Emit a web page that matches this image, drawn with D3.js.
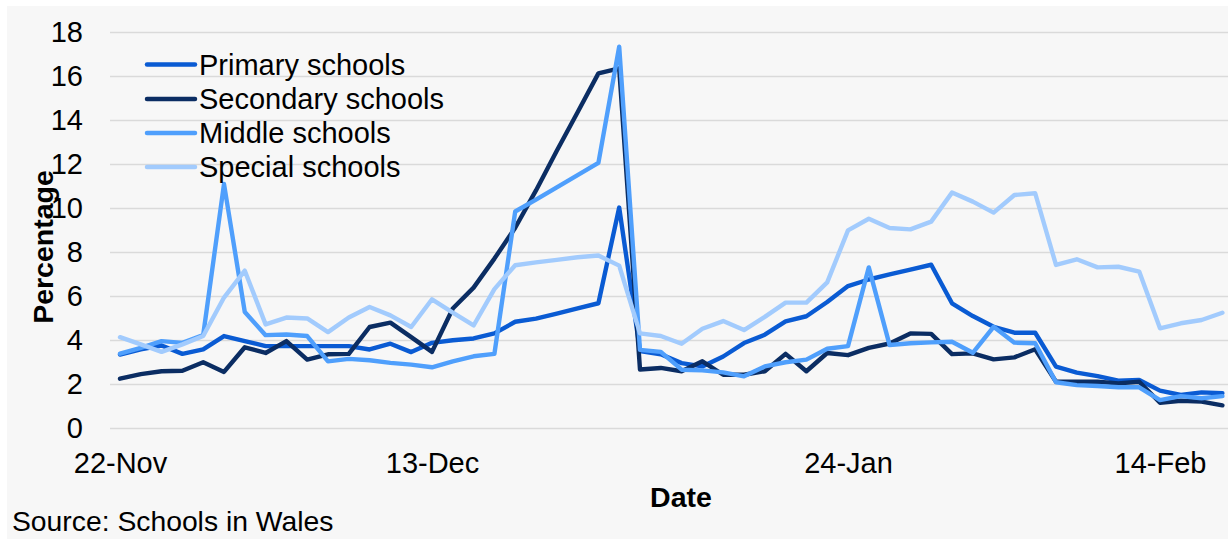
<!DOCTYPE html>
<html>
<head>
<meta charset="utf-8">
<script src="https://cdn.jsdelivr.net/npm/d3@7"></script>
<style>
  body { margin: 0; background: #fff; }
  text { font-family: Arial, "Liberation Sans", sans-serif; fill: #000; }
</style>
</head>
<body>
<div id="chart"></div>
<script>
// school days shown on the x axis
var days = [
    "22-Nov", "23-Nov", "24-Nov", "25-Nov", "26-Nov",
    "29-Nov", "30-Nov", "1-Dec", "2-Dec", "3-Dec",
    "6-Dec", "7-Dec", "8-Dec", "9-Dec", "10-Dec",
    "13-Dec", "14-Dec", "15-Dec", "16-Dec", "17-Dec",
    "20-Dec", "21-Dec", "22-Dec", "23-Dec", "24-Dec",
    "10-Jan", "11-Jan", "12-Jan", "13-Jan", "14-Jan",
    "17-Jan", "18-Jan", "19-Jan", "20-Jan", "21-Jan",
    "24-Jan", "25-Jan", "26-Jan", "27-Jan", "28-Jan",
    "31-Jan", "1-Feb", "2-Feb", "3-Feb", "4-Feb",
    "7-Feb", "8-Feb", "9-Feb", "10-Feb", "11-Feb",
    "14-Feb", "15-Feb", "16-Feb", "17-Feb"
];
var dayTicks = ["22-Nov", "13-Dec", "24-Jan", "14-Feb"];
var yTicks = [0, 2, 4, 6, 8, 10, 12, 14, 16, 18];

var primary = [
    3.34, 3.57, 3.75, 3.37, 3.57, 4.18, 3.95, 3.72, 3.72, 3.72,
    3.72, 3.72, 3.57, 3.83, 3.45, 3.87, 3.99, 4.07, 4.3, 4.83,
    4.97, 5.2, 5.44, 5.67, 10.02, 3.5, 3.35, 2.95, 2.8, 3.25,
    3.86, 4.24, 4.85, 5.08, 5.73, 6.45, 6.75, 6.98, 7.2, 7.42,
    5.67, 5.09, 4.6, 4.33, 4.33, 2.79, 2.52, 2.36, 2.15, 2.18,
    1.7, 1.5, 1.62, 1.58
];
var secondary = [
    2.24, 2.45, 2.58, 2.6, 2.99, 2.55, 3.67, 3.41, 3.95, 3.11,
    3.35, 3.37, 4.59, 4.79, 4.13, 3.46, 5.43, 6.38, 7.7, 9.1,
    10.8, 12.6, 14.35, 16.12, 16.35, 2.66, 2.73, 2.58, 3.03, 2.42,
    2.42, 2.58, 3.37, 2.58, 3.41, 3.31, 3.64, 3.84, 4.3, 4.28,
    3.36, 3.39, 3.12, 3.21, 3.58, 2.1, 2.1, 2.1, 2.03, 2.1,
    1.15, 1.24, 1.2, 1.03
];
var middle = [
    3.38, 3.64, 3.95, 3.87, 4.22, 11.09, 5.27, 4.22, 4.25, 4.18,
    3.03, 3.14, 3.08, 2.96, 2.88, 2.76, 3.03, 3.26, 3.37, 9.84,
    10.38, 10.94, 11.49, 12.05, 17.33, 3.55, 3.46, 2.65, 2.62, 2.53,
    2.35, 2.8, 2.99, 3.11, 3.6, 3.72, 7.3, 3.77, 3.85, 3.89,
    3.92, 3.42, 4.6, 3.88, 3.85, 2.08, 1.95, 1.91, 1.85, 1.85,
    1.27, 1.45, 1.35, 1.45
];
var special = [
    4.13, 3.8, 3.46, 3.8, 4.18, 5.93, 7.15, 4.71, 5.02, 4.98,
    4.36, 5.02, 5.5, 5.12, 4.59, 5.85, 5.24, 4.66, 6.31, 7.4,
    7.53, 7.64, 7.76, 7.84, 7.38, 4.3, 4.18, 3.83, 4.51, 4.86,
    4.45, 5.05, 5.7, 5.7, 6.62, 8.98, 9.51, 9.09, 9.03, 9.38,
    10.7, 10.29, 9.79, 10.59, 10.67, 7.41, 7.67, 7.3, 7.33, 7.11,
    4.53, 4.76, 4.91, 5.24
];

var seriesNames = ["Primary schools", "Secondary schools", "Middle schools", "Special schools"];
var seriesColors = ["#0a5bd3", "#0b2d63", "#4f9ffc", "#a2cbfd"];
var seriesValues = [primary, secondary, middle, special];

var width = 1228;
var height = 539;
// plot edges (window.top is read-only, so no "top" here)
var plotLeft = 110, plotRight = 1228, plotTop = 32, plotBottom = 428;

var svg = d3.select("#chart")
    .append("svg")
    .attr("width", width)
    .attr("height", height);

// grey panel, white strip along top and left
svg.append("rect")
    .attr("x", 7).attr("y", 6)
    .attr("width", width - 7).attr("height", height - 6)
    .attr("fill", "#f7f7f7");

var x = d3.scalePoint()
    .domain(days)
    .range([120, 120 + 20.8 * (days.length - 1)]);

var y = d3.scaleLinear()
    .domain([0, 18])
    .range([plotBottom, plotTop]);

// y axis with gridlines
var yAxis = svg.append("g")
    .attr("transform", "translate(" + plotLeft + ",0)")
    .call(d3.axisLeft(y)
        .tickValues(yTicks)
        .tickSizeInner(-(plotRight - plotLeft))
        .tickSizeOuter(0)
        .tickPadding(27));
yAxis.select(".domain").remove();
yAxis.selectAll("line").attr("stroke", "#dadada").attr("stroke-width", 1.3);
yAxis.selectAll("text").attr("font-size", 29).attr("fill", "#000");

// x axis, labels only
var xAxis = svg.append("g")
    .attr("transform", "translate(0," + plotBottom + ")")
    .call(d3.axisBottom(x)
        .tickValues(dayTicks)
        .tickSize(0)
        .tickPadding(24));
xAxis.select(".domain").remove();
xAxis.selectAll("text").attr("font-size", 29).attr("fill", "#000");

var line = d3.line()
    .x((d, i) => x(days[i]))
    .y(d => y(d));

svg.append("g")
    .selectAll("path")
    .data(seriesValues)
    .enter().append("path")
    .attr("d", d => line(d))
    .attr("fill", "none")
    .attr("stroke", (d, i) => seriesColors[i])
    .attr("stroke-width", 4.4)
    .attr("stroke-linejoin", "round")
    .attr("stroke-linecap", "round");

// legend
var legendRows = [64.5, 99, 133, 167];
var legend = svg.append("g")
    .selectAll("g")
    .data(seriesNames)
    .enter().append("g")
    .attr("transform", (d, i) => "translate(0," + legendRows[i] + ")");

legend.append("line")
    .attr("x1", 147).attr("x2", 195)
    .attr("y1", 0).attr("y2", 0)
    .attr("stroke", (d, i) => seriesColors[i])
    .attr("stroke-width", 4.5)
    .attr("stroke-linecap", "round");

legend.append("text")
    .attr("x", 199)
    .attr("y", 10)
    .attr("font-size", 29)
    .text(d => d);

// axis titles
svg.append("text")
    .attr("transform", "translate(53,247) rotate(-90)")
    .attr("text-anchor", "middle")
    .attr("font-size", 28.5)
    .attr("font-weight", "bold")
    .text("Percentage");

svg.append("text")
    .attr("x", 681)
    .attr("y", 507)
    .attr("text-anchor", "middle")
    .attr("font-size", 28.5)
    .attr("font-weight", "bold")
    .text("Date");

svg.append("text")
    .attr("x", 12)
    .attr("y", 531)
    .attr("font-size", 28.3)
    .text("Source: Schools in Wales");
</script>
</body>
</html>
